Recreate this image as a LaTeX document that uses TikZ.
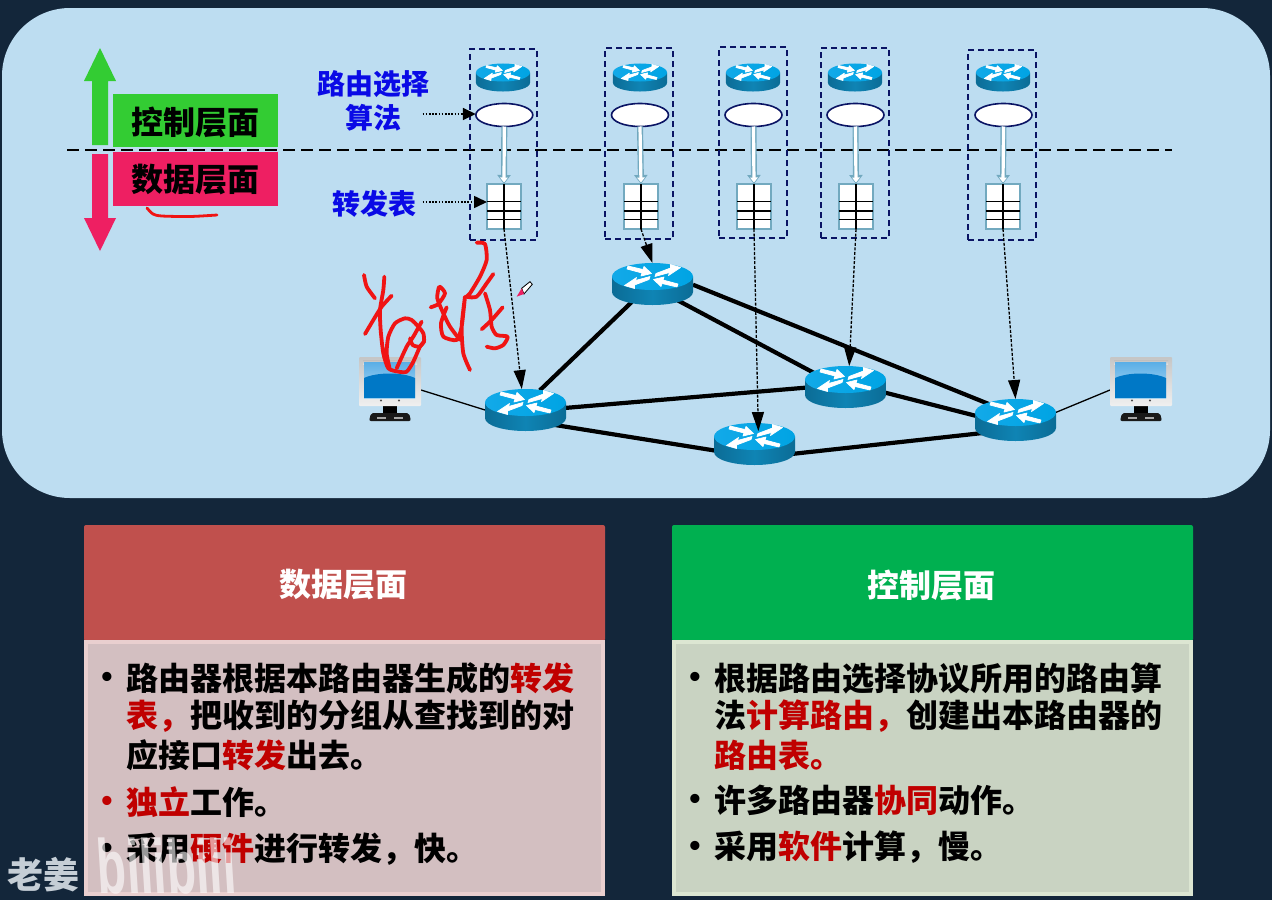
\documentclass[tikz,border=0pt]{standalone}
\usepackage{fontspec}
\setmainfont{Noto Sans CJK SC}
\newfontfamily\bulletfont{Liberation Sans}
\newfontfamily\logofont{Liberation Sans}
\usetikzlibrary{arrows.meta,shapes.geometric}
\definecolor{bgdark}{HTML}{13263A}
\definecolor{panel}{HTML}{BDDDF1}
\definecolor{navy}{HTML}{0A1464}
\definecolor{ctrlgreen}{HTML}{33CC33}
\definecolor{datapink}{HTML}{EE1F62}
\definecolor{labelblue}{HTML}{0A0AE6}
\definecolor{hot}{HTML}{C00000}
\definecolor{ink}{HTML}{F01414}
\definecolor{tealline}{HTML}{72A9BF}
\definecolor{hdrred}{HTML}{C0504D}
\definecolor{hdrgreen}{HTML}{00B050}
\definecolor{bodyred}{HTML}{D3BFC1}
\definecolor{edgered}{HTML}{E9CFCF}
\definecolor{bodygreen}{HTML}{C9D3C2}
\definecolor{edgegreen}{HTML}{DCE6D2}
\definecolor{wmgrey}{HTML}{C5CED6}
\definecolor{rbodyA}{HTML}{0B6C96}
\definecolor{rbodyM}{HTML}{0F84B4}
\definecolor{rbodyB}{HTML}{0B6C96}
\definecolor{rtopA}{HTML}{12A9E8}
\definecolor{rtopB}{HTML}{00A4E4}
\definecolor{screenA}{HTML}{5AAEE6}
\definecolor{screenB}{HTML}{B5DDF5}
\definecolor{screenC}{HTML}{0078C6}
\tikzset{
  base/.style={inner sep=0pt,outer sep=0pt},
  t32/.style={base,font=\fontsize{32}{38}\selectfont\bfseries,text=black},
  lbl/.style={base,font=\fontsize{28}{32}\selectfont\bfseries,text=labelblue},
  line32/.style={t32,anchor=west},
  hdr/.style={t32,text=white},
  bul/.style={base,font=\fontsize{32}{38}\selectfont\bulletfont\bfseries,text=black},
  rhidden/.style={base,ellipse,draw=none},
  host/.style={base,rectangle,draw=none,minimum width=62pt,minimum height=65pt},
  dbox/.style={base,rectangle,draw=navy,line width=1.8pt,dash pattern=on 6pt off 4pt},
  algo/.style={base,ellipse,draw=navy,fill=white,line width=1.6pt,minimum width=57pt,minimum height=23pt},
  ftable/.style={base,rectangle,draw=tealline,fill=white,line width=1.5pt,minimum width=34pt,minimum height=45pt},
  wire/.style={line width=4.2pt,black},
  thinwire/.style={line width=1.3pt,black},
  hollowout/.style={line width=6pt,tealline,-{Triangle[length=9pt,width=13pt]}},
  hollowin/.style={line width=3.2pt,white,-{Triangle[length=5pt,width=7.5pt]}},
  dashlink/.style={line width=1.3pt,black,dash pattern=on 3pt off 1.6pt,-{Triangle[length=19pt,width=12pt]}},
  dotlink/.style={line width=1.6pt,black,dash pattern=on 1.6pt off 1.6pt,-{Triangle[length=13pt,width=12pt]}},
  pen/.style={line width=3.8pt,ink,line cap=round,line join=round},
}
\newcommand{\rnode}[4]{\node[rhidden,minimum width=81pt*#4,minimum height=42pt*#4] (#1) at (#2,#3) {};}
\newcommand{\rart}[3]{%
  \begin{scope}[shift={(#1,#2)},scale=#3]
    \shade[left color=rbodyA,right color=rbodyB,middle color=rbodyM]
      (-40.5,-7.5) -- (-40.5,8) .. controls (-40.5,15.5) and (-22,21) .. (0,21)
      .. controls (22,21) and (40.5,15.5) .. (40.5,8) -- (40.5,-7.5) -- cycle;
    \shade[left color=rtopA,right color=rtopB] (0,-7.5) ellipse [x radius=40.5,y radius=13.5];
    \begin{scope}[shift={(0,-7.5)}]
      \filldraw[white,line width=.7pt,line join=round] (-25.5,-7.5) -- (-10.5,-3.5) -- (-11.5,-0.5) -- (-1,-3) -- (-8.5,-10) -- (-9.5,-7) -- (-24.5,-10.5) -- cycle;
      \filldraw[white,line width=.7pt,line join=round] (2.5,0) -- (17,-4) -- (16,-1) -- (28,-9) -- (18,-12) -- (18,-8.5) -- (3.5,-3) -- cycle;
      \filldraw[white,line width=.7pt,line join=round] (-2.5,0) -- (-17,4) -- (-16,1) -- (-28,9) -- (-18,12) -- (-18,8.5) -- (-3.5,3) -- cycle;
      \filldraw[white,line width=.7pt,line join=round] (25.5,7.5) -- (10.5,3.5) -- (11.5,0.5) -- (1,3) -- (8.5,10) -- (9.5,7) -- (24.5,10.5) -- cycle;
    \end{scope}
  \end{scope}}
\newcommand{\tgrid}[1]{%
  \draw[black,line width=1.2pt] ([yshift=5pt]#1.west) -- ([yshift=5pt]#1.east);
  \draw[black,line width=1.2pt] ([yshift=-4.5pt]#1.west) -- ([yshift=-4.5pt]#1.east);
  \draw[black,line width=1.2pt] ([yshift=-13pt]#1.west) -- ([yshift=-13pt]#1.east);
  \draw[black,line width=1.6pt] (#1.north) -- (#1.south);}
\newcommand{\monitor}[2]{%
  \begin{scope}[shift={(#1,#2)}]
    \fill[black] (24,48) rectangle (38,58);
    \fill[black!90,rounded corners=2pt] (12,56) -- (50,56) -- (52,64) -- (10,64) -- cycle;
    \fill[gray!70] (18,60) rectangle (27,62); \fill[gray!70] (35,60) rectangle (44,62);
    \shade[top color=gray!45,bottom color=gray!12,rounded corners=1pt] (0,0) rectangle (62,49);
    \shade[top color=gray!50,bottom color=gray!25] (4,3) rectangle (58,7);
    \shade[top color=screenA,bottom color=screenB] (5,5) rectangle (56,41);
    \fill[screenC] (5,41) -- (5,21) .. controls (18,15) and (43,15) .. (56,21) -- (56,41) -- cycle;
    \fill[black!70] (22,43.5) circle (1.2); \fill[black!70] (40,43.5) circle (1.2);
  \end{scope}}
\begin{document}
\begin{tikzpicture}[x=1pt,y=-1pt]
\useasboundingbox (0,0) rectangle (1272,900);
\fill[bgdark] (0,0) rectangle (1272,900);
\fill[panel,rounded corners=68pt] (2,8) rectangle (1270,498);

% bottom panels
\fill[rounded corners=2pt,hdrred] (84,525) rectangle (605,641);
\fill[rounded corners=2pt,hdrgreen] (672,525) rectangle (1193,641);
\draw[line width=4pt,draw=edgered,fill=bodyred] (86,642) rectangle (603,894);
\draw[line width=4pt,draw=edgegreen,fill=bodygreen] (674,642) rectangle (1191,894);
\node[hdr] (hL) at (343.5,585) {数据层面};
\node[hdr] (hR) at (931.5,585) {控制层面};

\node[bul] (bL1) at (107,680) {•};
\node[line32] (L1) at (126.5,678) {路由器根据本路由器生成的\textcolor{hot}{转发}};
\node[line32] (L2) at (126.5,716) {\textcolor{hot}{表，}把收到的分组从查找到的对};
\node[line32] (L3) at (126.5,755) {应接口\textcolor{hot}{转发}出去。};
\node[bul,text=hot] (bL2) at (107,804) {•};
\node[line32] (L4) at (126.5,802) {\textcolor{hot}{独立}工作。};
\node[bul] (bL3) at (107,851) {•};
\node[line32] (L5) at (126.5,849) {采用\textcolor{hot}{硬件}进行转发，快。};

\node[bul] (bR1) at (695,680) {•};
\node[line32] (R1) at (714.5,678) {根据路由选择协议所用的路由算};
\node[line32] (R2) at (714.5,716) {法\textcolor{hot}{计算路由，}创建出本路由器的};
\node[line32] (R3) at (714.5,755) {\textcolor{hot}{路由表。}};
\node[bul] (bR2) at (695,802) {•};
\node[line32] (R4) at (714.5,800) {许多路由器\textcolor{hot}{协同}动作。};
\node[bul] (bR3) at (695,849) {•};
\node[line32] (R5) at (714.5,847) {采用\textcolor{hot}{软件}计算，慢。};

% layer arrows and labels
\fill[ctrlgreen] (100,48) -- (116,81) -- (108,81) -- (108,145) -- (92,145) -- (92,81) -- (84,81) -- cycle;
\fill[datapink] (100,251) -- (116,218) -- (108,218) -- (108,154) -- (92,154) -- (92,218) -- (84,218) -- cycle;
\node[base,rectangle,fill=ctrlgreen,minimum width=165pt,minimum height=53pt] (cbox) at (195.5,120.5) {};
\node[base,rectangle,fill=datapink,minimum width=165pt,minimum height=54pt] (dbox0) at (195.5,179) {};
\node[t32] (ctext) at (195.5,122) {控制层面};
\node[t32] (dtext) at (195.5,180) {数据层面};
\draw[line width=2.6pt,black,dash pattern=on 12pt off 6pt] (67,150) -- (1172,150);

% routers: anchors
\rnode{r1}{525.5}{410}{1}
\rnode{r2}{652.5}{284}{1}
\rnode{r3}{845.5}{387}{1}
\rnode{r4}{754.5}{444}{1}
\rnode{r5}{1015.5}{420}{1}
\node[host] (h1) at (390,390) {};
\node[host] (h2) at (1141,390) {};

\draw[wire] (r1.54) -- (r2.221);
\draw[wire] (r1.3) -- (r3.181);
\draw[wire] (r1.south east) -- (r4.190);
\draw[wire] (r2.-33) -- (r3.156);
\draw[wire] (r2.-1) -- (r5.149);
\draw[wire] (r3.-8) -- (r5.174);
\draw[wire] (r4.-16) -- (r5.202);
\draw[thinwire] (h1.east) -- (r1.west);
\draw[thinwire] (r5.10) -- (h2.west);

\rart{525.5}{410}{1}
\rart{652.5}{284}{1}
\rart{845.5}{387}{1}
\rart{754.5}{444}{1}
\rart{1015.5}{420}{1}
\monitor{359}{357}
\monitor{1110}{357}

% control-plane columns
\node[dbox,minimum width=67pt,minimum height=191pt] (d1) at (503.5,144.5) {};
\node[dbox,minimum width=68pt,minimum height=191pt] (d2) at (639,143.5) {};
\node[dbox,minimum width=68pt,minimum height=191pt] (d3) at (753,142.5) {};
\node[dbox,minimum width=68pt,minimum height=190pt] (d4) at (855,143) {};
\node[dbox,minimum width=68pt,minimum height=190pt] (d5) at (1002,145) {};

\rnode{s1}{503}{77.5}{0.667}
\rnode{s2}{640}{77.5}{0.667}
\rnode{s3}{753}{77.5}{0.667}
\rnode{s4}{855}{77.5}{0.667}
\rnode{s5}{1003}{77.5}{0.667}
\rart{503}{77.5}{0.667}
\rart{640}{77.5}{0.667}
\rart{753}{77.5}{0.667}
\rart{855}{77.5}{0.667}
\rart{1003}{77.5}{0.667}

\node[algo] (e1) at (504.3,115) {};
\node[algo] (e2) at (640,115) {};
\node[algo] (e3) at (753.5,115) {};
\node[algo] (e4) at (855.5,115) {};
\node[algo] (e5) at (1003.5,115) {};
\node[ftable] (t1) at (504,206.5) {};
\node[ftable] (t2) at (641,206.5) {};
\node[ftable] (t3) at (754,206.5) {};
\node[ftable] (t4) at (856,206.5) {};
\node[ftable] (t5) at (1003,206.5) {};
\foreach \i in {1,...,5} {
  \draw[hollowout] (e\i.south) -- (t\i.north);
  \draw[hollowin,shorten >=1.5pt] (e\i.south) -- (t\i.north);
  \tgrid{t\i}
}

\draw[dashlink] (t1.south) -- (r1.100);
\draw[dashlink] (t2.south) -- (r2.north);
\draw[dashlink,shorten >=-8pt] (t3.south) -- (r4.80);
\draw[dashlink] (t4.south) -- (r3.80);
\draw[dashlink] (t5.south) -- (r5.north);

\node[lbl] (a1) at (373.5,84) {路由选择};
\node[lbl] (a2) at (373.5,118) {算法};
\node[lbl] (a3) at (374.5,204) {转发表};
\coordinate (a2s) at ([shift={(21,-4)}]a2.east);
\coordinate (a3s) at ([shift={(6,-2)}]a3.east);
\draw[dotlink] (a2s) -- ([yshift=1pt]e1.west);
\draw[dotlink] (a3s) -- ([yshift=4.5pt]t1.west);

% handwriting
\draw[pen,line width=2.8pt] plot[smooth,tension=.5] coordinates {(147,208) (153,214) (162,216) (190,216.5) (217,215)};
\begin{scope}[shift={(340,230)},x=0.3333pt,y=-0.3333pt]
  \draw[pen] plot[smooth,tension=.4] coordinates {(72,135) (80,170) (105,205)};
  \draw[pen] plot[smooth,tension=.4] coordinates {(133,140) (130,180) (120,240) (122,300) (130,370) (145,415) (175,425) (200,425) (220,395) (240,350) (252,335) (250,310) (235,290) (215,270) (195,265) (165,280) (145,320) (140,370) (150,420)};
  \draw[pen] plot[smooth,tension=.4] coordinates {(155,197) (125,230) (100,270) (75,312)};
  \draw[pen] plot[smooth,tension=.4] coordinates {(245,275) (220,320) (200,350) (170,415)};
  \draw[pen] plot[smooth,tension=.4] coordinates {(210,325) (218,345) (238,350) (252,335)};
  \draw[pen] plot[smooth,tension=.4] coordinates {(272,232) (295,222) (315,190) (298,170) (292,205) (310,250) (330,290) (360,330)};
  \draw[pen] plot[smooth,tension=.4] coordinates {(320,232) (303,280) (310,320) (350,330) (365,290) (375,200) (365,290) (370,370) (390,420)};
  \draw[pen] plot[smooth,tension=.4] coordinates {(410,38) (435,42) (440,90) (420,140) (390,190) (380,200) (410,200) (440,160) (460,132)};
  \draw[pen] plot[smooth,tension=.4] coordinates {(435,190) (450,240) (455,290) (470,315) (503,320) (490,345) (465,355) (440,350)};
  \draw[pen] plot[smooth,tension=.4] coordinates {(488,232) (455,270) (425,298)};
  % pen cursor
  \fill[white] (545,175) -- (570,155) -- (577,163) -- (552,192) -- cycle;
  \draw[black,line width=.8pt] (545,175) -- (570,155) -- (577,163) -- (552,192) -- cycle;
  \fill[datapink] (530,200) -- (545,175) -- (552,192) -- cycle;
\end{scope}

% watermark
\node[base,font=\fontsize{36}{36}\selectfont\bfseries,text=wmgrey,anchor=west] (wm) at (8,875) {老姜};
\node[base,font=\fontsize{48}{48}\selectfont\logofont\bfseries,text=white,opacity=.6,anchor=west,yscale=1.6,xslant=-0.1,transform shape] (logo) at (97,866) {bilibili};
\end{tikzpicture}
\end{document}
